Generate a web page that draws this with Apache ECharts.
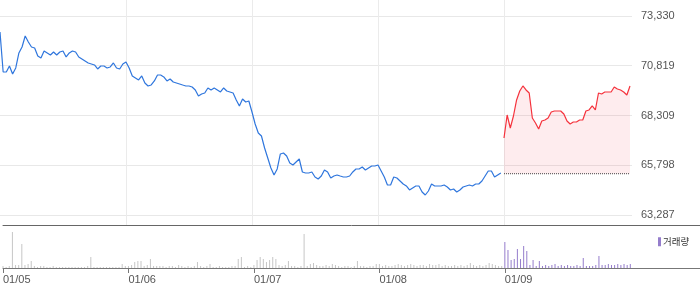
<!DOCTYPE html>
<html>
<head>
<meta charset="utf-8">
<script src="https://cdn.jsdelivr.net/npm/echarts@6/dist/echarts.min.js"></script>
<style>
html,body{margin:0;padding:0;background:#fff;}
#c{width:700px;height:289px;}
</style>
</head>
<body>
<div id="c"></div>
<script>
// ---- data ----
const days = ['01/05', '01/06', '01/07', '01/08', '01/09'];
const yTicks = [63287, 65798, 68309, 70819, 73330];
const prevClose = 65370;
const perDay = 40;

const price1 = [72523,70504,70504,70807,70403,70706,71463,71766,72321,72018,71766,71715,71312,71211,71564,71463,71362,71514,71362,71514,71564,71261,71463,71564,71514,71261,71160,71059,70958,70908,70857,70656,70807,70807,70706,70757,70958,70706,70656,70908];
const price2 = [71009,70706,70302,70201,70100,70302,69949,69798,69848,70050,70353,70353,70252,70050,70151,69999,69949,69899,69848,69798,69798,69747,69596,69293,69394,69444,69697,69596,69697,69596,69495,69697,69545,69495,69444,69091,68788,69141,68990,69041];
const price3 = [68485,67880,67425,67274,66668,66164,65659,65306,65609,66366,66416,66265,65911,65810,65962,66113,65457,65407,65407,65457,65205,65104,65255,65558,65457,65154,65255,65306,65255,65205,65205,65255,65457,65609,65609,65710,65558,65659,65760,65760];
const price4 = [65810,65508,65205,64801,64801,65205,65154,65003,64852,64751,64549,64650,64751,64751,64448,64296,64498,64852,64751,64751,64751,64801,64700,64549,64599,64448,64549,64700,64751,64801,64751,64852,64852,65003,65255,65508,65508,65205,65306,65407];
const price5 = [67173,68334,67678,68283,69091,69545,69798,69596,69444,68183,67930,67627,68031,68082,68183,68485,68536,68536,68536,68384,68031,67880,67981,67981,68082,68082,68536,68586,68788,68586,69444,69394,69495,69495,69495,69747,69646,69596,69495,69343,69798];

const vol1 = [2,1,2,36,3,3,24,3,4,7,2,1,2,2,1,1,2,1,1,1,1,1,1,1,1,1,1,2,11,1,1,1,1,1,1,1,1,1,4,2];
const vol2 = [2,3,6,7,7,2,3,9,2,2,2,2,1,2,2,1,3,2,1,2,1,2,6,2,1,2,4,1,1,2,1,1,1,2,2,9,11,1,2,1];
const vol3 = [3,8,11,9,6,8,11,9,3,2,3,7,2,2,1,2,34,2,4,5,3,2,2,3,2,4,3,2,1,2,2,1,2,7,2,2,1,2,2,4];
const vol4 = [4,2,3,2,2,3,4,3,2,3,4,3,2,3,3,2,4,3,3,4,2,3,2,2,3,2,3,2,3,5,3,2,3,2,3,5,4,3,2,2];
const vol5 = [26,18,8,9,19,9,22,17,3,8,2,7,2,3,2,3,4,2,3,2,3,2,2,3,2,10,2,2,2,3,12,3,3,4,3,3,4,3,4,3,4];

// ---- build ----
const past = [].concat(price1, price2, price3, price4);
const today = price5;
const vols = [].concat(vol1, vol2, vol3, vol4, vol5);
const pastData = past.map((v, i) => [i, v]);
const todayData = today.map((v, k) => [past.length + k, v]);
const volData = vols.map((v, i) => [i, v]);
const dayTicks = days.map((d, i) => i * perDay);
const lastIdx = past.length + today.length - 1;

const pxPerUnit = 3.15;
const FONT = '"Liberation Sans", Arial, sans-serif';

const chart = echarts.init(document.getElementById('c'), null, {renderer: 'canvas'});
chart.setOption({
  animation: false,
  backgroundColor: '#fff',
  grid: [
    {left: 0, right: 68, top: 0, bottom: 64},
    {left: 0, right: 0, top: 225, bottom: 21}
  ],
  legend: {
    data: [{name: '거래량', itemStyle: {color: '#957dcc'}}],
    left: 653, top: 232,
    icon: 'rect', itemWidth: 3, itemHeight: 9,
    selectedMode: false,
    textStyle: {fontSize: 9.5, color: '#333', fontFamily: '"Noto Sans CJK KR", sans-serif', padding: [0, 0, 0, -3]}
  },
  xAxis: [
    {
      gridIndex: 0, type: 'value', min: 0, max: 632 / pxPerUnit,
      axisLine: {show: false},
      axisTick: {show: false, customValues: dayTicks.slice(1)},
      axisLabel: {show: false, customValues: dayTicks.slice(1)},
      splitLine: {show: true, lineStyle: {color: '#ebebeb', width: 1}}
    },
    {
      gridIndex: 1, type: 'value', min: 0, max: 700 / pxPerUnit,
      axisLine: {show: true, lineStyle: {color: '#777'}},
      axisTick: {show: true, customValues: dayTicks, length: 5, lineStyle: {color: '#777'}},
      axisLabel: {
        customValues: dayTicks, margin: 6, align: 'left',
        color: '#555', fontSize: 11, fontFamily: FONT,
        formatter: v => days[Math.round(v / perDay)] || ''
      },
      splitLine: {show: false}
    },
    {
      gridIndex: 1, type: 'value', position: 'top', min: 0, max: 700 / pxPerUnit,
      axisLine: {show: true, lineStyle: {color: '#666'}},
      axisTick: {show: false}, axisLabel: {show: false}, splitLine: {show: false}
    }
  ],
  yAxis: [
    {
      gridIndex: 0, type: 'value', position: 'right', min: 62782, max: 74137,
      axisLine: {show: false},
      axisTick: {show: false, customValues: yTicks},
      axisLabel: {
        customValues: yTicks, margin: 9, color: '#555', fontSize: 11, fontFamily: FONT,
        formatter: v => Math.round(v).toLocaleString('en-US')
      },
      splitLine: {show: true, lineStyle: {color: '#e8e8e8', width: 1}}
    },
    {gridIndex: 1, type: 'value', min: 0, max: 43, show: false}
  ],
  series: [
    {
      type: 'line', xAxisIndex: 0, yAxisIndex: 0, data: pastData,
      showSymbol: false, symbol: 'none', silent: true,
      lineStyle: {color: '#2f76dd', width: 1.2}
    },
    {
      type: 'line', xAxisIndex: 0, yAxisIndex: 0, data: todayData,
      showSymbol: false, symbol: 'none', silent: true,
      lineStyle: {color: '#f5323c', width: 1.2},
      areaStyle: {color: 'rgba(240,40,60,0.12)', origin: prevClose}
    },
    {
      type: 'line', xAxisIndex: 0, yAxisIndex: 0,
      data: [[past.length, prevClose], [lastIdx, prevClose]],
      showSymbol: false, symbol: 'none', silent: true,
      lineStyle: {color: '#444', width: 1, type: 'dotted'}
    },
    {
      name: '거래량', type: 'bar', xAxisIndex: 1, yAxisIndex: 1, data: volData,
      barWidth: 1, silent: true,
      itemStyle: {color: p => p.data[0] >= past.length ? '#957dcc' : '#c6c6c6'}
    }
  ]
});
</script>
</body>
</html>
